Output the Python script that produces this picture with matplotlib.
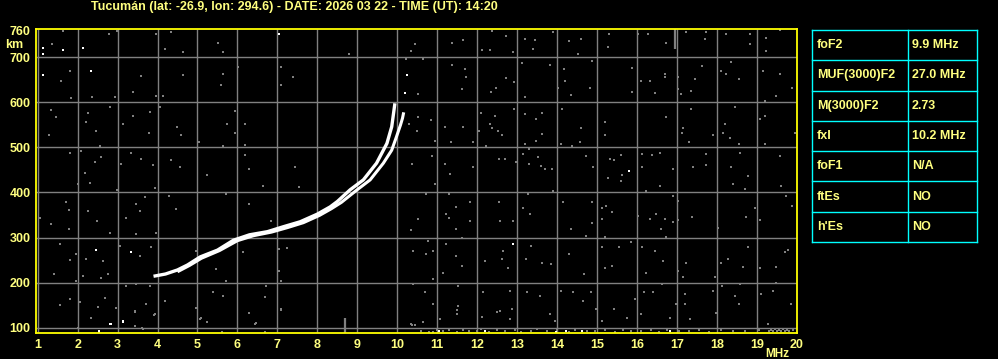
import matplotlib
matplotlib.use("Agg")
import matplotlib.pyplot as plt

# Station / header
station = "Tucumán"
lat, lon = -26.9, 294.6
date_str = "2026 03 22"
time_str = "14:20"

# Ordinary trace (frequency MHz, virtual height km)
o_freq = [3.9, 4.2, 4.5, 4.75, 5.07, 5.5, 5.9, 6.3, 6.75, 7.15, 7.57, 8.0, 8.32, 8.5,
          8.82, 9.15, 9.48, 9.74, 9.86, 9.94]
o_height = [214, 219, 228, 239, 257, 272, 294, 306, 313, 324, 335, 352, 368, 380,
            406, 428, 465, 509, 546, 598]

# Extraordinary trace
x_freq = [4.5, 4.8, 5.1, 5.55, 6.0, 6.4, 6.85, 7.25, 7.65, 8.05, 8.35, 8.6, 8.98, 9.32,
          9.65, 9.86, 9.98, 10.08, 10.13, 10.16]
x_height = [224, 238, 254, 271, 293, 304, 312, 322, 333, 349, 364, 378, 405, 428,
            465, 494, 524, 550, 565, 578]

# Bright single echoes
bright_freq = [1.13, 1.13, 1.63, 2.13, 2.34, 1.13, 7.03, 2.45, 3.34, 2.84, 3.13, 2.53,
               2.82, 3.13, 2.54, 10.19, 10.23, 12.9, 15.79, 11.04, 12.19, 14.23, 14.63,
               16.83, 13.98]
bright_height = [721, 707, 716, 721, 670, 661, 752, 272, 267, 109, 115, 93,
                 109, 113, 91, 621, 661, 285, 448, 93, 93, 93, 93, 93, 90]

# Grey noise echoes
noise_freq = [
    1.37, 1.63, 2.78, 2.98, 3.95, 4.34, 4.18, 4.63, 5.51, 5.63, 8.78, 6.02, 7.09, 7.38,
    7.09, 5.59, 5.63, 1.8, 1.59, 1.84, 2.37, 2.93, 3.38, 3.59, 3.97, 4.13, 4.63, 2.8,
    1.34, 1.47, 2.26, 3.38, 3.8, 4.05, 2.22, 2.47, 3.13, 1.28, 3.78, 4.48, 4.59, 5.74,
    5.95, 6.19, 5.94, 5.03, 5.63, 6.19, 2.55, 1.8, 2.09, 2.59, 2.43, 3.34, 3.59, 3.88,
    4.34, 4.57, 2.18, 3.09, 6.18, 5.24, 6.28, 7.43, 10.45, 10.34, 10.51, 10.28, 10.5,
    10.53, 10.37, 10.22,
    2.3, 2.01, 2.98, 1.7, 1.78, 2.26, 2.48, 2.8, 1.78, 1.34, 1.05, 3.22, 3.47, 3.55,
    3.68, 3.93, 4.3, 4.47, 3.47, 3.97, 1.55, 1.97, 2.22, 2.63, 3.05, 3.55, 3.84, 1.8,
    1.42, 2.13, 2.59, 2.76, 1.97, 3.22, 3.47, 3.8, 1.8, 2.05, 2.51, 2.68, 2.97, 3.43,
    3.72, 4.18, 3.93, 2.34, 3.43, 3.63, 2.01, 4.97, 5.09, 5.38, 5.63, 5.72, 6.13, 5.47,
    4.97, 6.28, 6.47, 6.72, 6.68, 7.09, 7.05, 7.24, 7.05, 7.09, 5.72, 6.3, 6.63, 6.84,
    7.55, 10.38, 10.38, 10.34, 10.51, 10.34, 1.57, 3.44, 3.9, 3.61, 5.07, 5.23, 6.28,
    6.44, 6.68, 5.61, 7.09, 10.36, 10.65, 10.9, 11.49, 11.49, 12.13, 12.49,
    12.36, 12.72, 13.19, 13.44, 13.9, 14.3, 14.59, 15.29, 15.28, 16.03, 16.28, 16.73,
    17.23, 17.71, 17.73, 18.23, 18.83, 18.83, 19.23, 19.23, 19.57, 11.36, 11.65, 12.11,
    12.33, 12.9, 13.4, 14.53, 10.65, 11.38, 11.69, 11.73, 11.63, 12.73, 12.93, 12.48,
    12.35, 13.13, 13.19, 13.82, 14.18, 14.19, 14.34, 14.03, 14.83, 14.88, 15.88, 15.88,
    16.09, 16.33, 16.44, 16.69, 16.69, 17.03, 17.02, 17.09, 17.34, 17.44, 17.63, 18.11,
    18.36, 18.55, 18.23, 19.15, 19.58, 19.48, 19.88, 19.19, 19.07, 19.19, 18.44, 18.19,
    18.14, 18.33, 18.54, 19.94, 19.19, 17.15, 17.13, 17.3, 17.9, 17.34, 16.73, 16.11,
    16.38, 16.57, 16.9, 17.4, 17.73, 17.73, 18.36, 18.58, 18.78, 19.58, 15.19, 15.19,
    14.59, 14.57, 14.13, 14.09, 14.38, 14.73, 14.9, 15.32, 15.43, 15.59, 15.63, 16.11,
    13.19, 13.63, 13.48, 13.63, 13.48, 13.19, 13.15, 13.3, 13.52, 13.6, 13.3, 13.69,
    13.88, 12.32, 12.36, 12.53, 12.63, 12.05, 12.44, 12.09, 12.93, 11.9, 11.65, 11.19,
    11.34, 10.84, 10.94, 10.86, 11.19, 11.32, 11.9, 12.23, 12.69, 12.54, 12.98,
    10.94, 10.73, 11.3, 11.48, 11.83, 11.48, 11.63, 11.21, 11.29, 11.83, 12.54, 12.58,
    12.9, 13.15, 13.32, 13.28, 13.9, 14.15, 14.88, 15.13, 15.23, 15.38, 15.13, 14.88,
    14.35, 14.73, 15.19, 15.28, 15.59, 16.23, 16.57, 16.9, 17.02, 16.03, 16.32, 16.48,
    16.69, 16.9, 17.02, 16.59, 16.73, 17.38, 18.03, 18.4, 18.69, 18.94, 18.72, 19.08,
    19.73, 19.88, 19.59,
    10.78, 11.23, 10.9, 10.73, 11.48, 11.63, 11.15, 10.9, 12.65, 12.61, 12.78, 12.19,
    13.34, 13.21, 13.63, 13.84, 14.3, 14.67, 15.13, 15.54, 15.38, 15.19, 15.84, 16.13,
    16.44, 16.65, 16.21, 17.02, 17.23, 17.16, 17.94, 18.11, 18.28, 18.65, 18.78, 19.07,
    19.47, 19.7, 19.78,
    10.69, 11.52, 10.9, 11.52, 11.07, 12.15, 12.58, 12.82, 12.86, 12.82, 13.24, 13.58,
    13.82, 13.94, 14.1, 14.4, 14.65, 14.85, 14.98, 15.11, 15.43, 15.74, 15.95, 16.1,
    16.18, 16.4, 16.63, 16.83, 16.98, 17.2, 17.2, 17.32, 17.9, 17.97, 18.13, 18.44,
    18.58, 18.55, 19.11, 19.4, 19.48, 19.84, 19.28,
    # clutter just above the bottom edge
    10.45, 10.6, 10.8, 11.0, 11.15, 11.3, 11.5, 11.65, 11.8, 12.0, 12.1, 12.3, 12.5,
    12.7, 12.95, 13.1, 13.35, 13.5, 13.75, 14.0, 14.3, 14.45, 14.75, 14.95, 15.2, 15.45,
    15.65, 15.85, 16.1, 16.35, 16.55, 16.75, 17.05, 17.3, 17.55, 17.8, 18.1, 18.4, 18.7,
    19.05, 19.3, 19.35, 19.4, 19.45, 19.5, 19.55, 19.6, 19.65, 19.7, 19.75, 19.8, 19.9,
]
noise_height = [
    730, 758, 753, 758, 752, 756, 719, 711, 733, 711, 707, 678, 678, 656,
    639, 639, 664, 670, 648, 610, 612, 612, 624, 659, 615, 615, 661, 589,
    583, 568, 576, 570, 578, 589, 556, 536, 552, 527, 531, 546, 528, 553,
    580, 552, 533, 513, 504, 505, 504, 487, 493, 478, 467, 487, 474, 461,
    473, 456, 444, 464, 483, 439, 452, 456, 730, 715, 619, 552, 537,
    567, 463, 696,
    422, 419, 405, 378, 361, 359, 337, 311, 319, 330, 344, 344, 374, 359,
    389, 411, 393, 363, 307, 311, 285, 264, 252, 248, 281, 259, 278, 250,
    219, 215, 211, 219, 204, 193, 196, 193, 163, 156, 146, 165, 144, 137,
    152, 159, 130, 122, 104, 96, 100, 144, 122, 178, 170, 204, 267, 230,
    270, 133, 111, 193, 167, 141, 274, 276, 226, 204, 396, 374, 415, 337,
    413, 270, 196, 107, 341, 316, 150, 135, 128, 98, 120, 113, 132,
    108, 91, 91, 139, 106, 113, 91, 139, 130, 123, 135,
    759, 748, 741, 739, 756, 737, 741, 752, 722, 752, 752, 731,
    756, 741, 756, 752, 752, 730, 744, 715, 761, 733, 739, 716,
    716, 711, 719, 707, 696, 683, 674, 656, 630, 654, 646, 633,
    624, 687, 611, 683, 674, 648, 616, 633, 633, 691, 676, 624,
    648, 647, 620, 663, 656, 656, 630, 619, 626, 652, 681, 670,
    689, 652, 663, 670, 663, 615, 633, 604, 563, 570, 589, 553,
    531, 522, 507, 533, 507, 544, 531, 513, 528, 585, 567, 485,
    483, 487, 452, 456, 485, 461, 456, 487, 437, 481, 557, 527,
    544, 511, 585, 507, 504, 481, 456, 474, 472, 483, 439, 456,
    574, 576, 563, 530, 515, 507, 485, 496, 478, 459, 463, 452,
    452, 552, 544, 537, 527, 537, 570, 576, 585, 513, 546, 546,
    511, 561, 515, 481, 464, 442, 456, 504, 474, 474, 467,
    419, 396, 396, 367, 378, 319, 300, 352, 343, 337, 378, 337,
    337, 365, 352, 396, 404, 378, 378, 365, 370, 357, 342, 333,
    319, 304, 301, 433, 426, 404, 415, 393, 381, 348, 341, 352,
    341, 335, 339, 320, 301, 346, 322, 419, 407, 365, 346, 339,
    393, 370, 415,
    293, 285, 270, 263, 259, 237, 222, 207, 270, 252, 233, 248,
    281, 252, 244, 241, 263, 219, 278, 278, 237, 233, 289, 278,
    270, 248, 222, 226, 244, 213, 213, 244, 253, 235, 279, 233,
    235, 267, 272,
    178, 193, 152, 148, 119, 178, 137, 181, 141, 119, 178, 170,
    130, 115, 181, 178, 159, 178, 141, 115, 141, 122, 163, 131,
    178, 178, 196, 122, 152, 174, 153, 119, 181, 133, 193, 170,
    196, 152, 174, 181, 200, 153, 107,
    106, 93, 91, 95, 92, 94, 91, 95, 92, 93, 96, 91, 94,
    92, 95, 91, 93, 96, 92, 94, 91, 95, 93, 92, 94, 91,
    95, 93, 92, 94, 91, 95, 93, 92, 94, 91, 95, 93, 92,
    94, 93, 95, 92, 96, 93, 95, 92, 96, 93, 95, 92, 94,
]

# Vertical interference streaks
streak_freq = [16.94, 8.69]
streak_low = [718, 89]
streak_high = [763, 121]

# Scaled parameters table
param_names = ["foF2", "MUF(3000)F2", "M(3000)F2", "fxI", "foF1", "ftEs", "h'Es"]
param_values = ["9.9 MHz", "27.0 MHz", "2.73", "10.2 MHz", "N/A", "NO", "NO"]

freq_ticks = list(range(1, 21))
height_ticks = [100, 200, 300, 400, 500, 600, 700]

text_yellow = "#ffff80"
frame_yellow = "#ffff00"
grid_grey = "#808080"

plt.rcParams["font.family"] = ["Liberation Sans", "DejaVu Sans"]
plt.rcParams["font.weight"] = "bold"

fig = plt.figure(figsize=(9.98, 3.59), dpi=100, facecolor="black")
ax = fig.add_axes([36 / 998, 26 / 359, 761 / 998, 304 / 359], facecolor="black")

# grid
ax.vlines(freq_ticks[:-1], 88, 763, colors=grid_grey, linewidth=1.0, zorder=1)
ax.hlines(height_ticks, 0.96, 20.0, colors=grid_grey, linewidth=1.0, zorder=1)

# noise and streaks
ax.scatter(noise_freq, noise_height, s=4.5, marker="s", color=grid_grey, linewidths=0, zorder=2)
ax.vlines(streak_freq, streak_low, streak_high, colors=grid_grey, linewidth=1.6, zorder=2)
ax.scatter(bright_freq, bright_height, s=4.5, marker="s", color="white", linewidths=0, zorder=3)

# traces
ax.plot(x_freq, x_height, color="white", linewidth=2.2, solid_capstyle="butt", zorder=4)
ax.plot(o_freq, o_height, color="white", linewidth=2.4, solid_capstyle="butt", zorder=4)

ax.set_xlim(0.96, 20.0)
ax.set_ylim(88, 763)
ax.set_xticks(freq_ticks)
ax.set_xticklabels([str(f) for f in freq_ticks])
ax.set_yticks(height_ticks + [760])
ax.set_yticklabels([str(h) for h in height_ticks] + ["760"])
ax.tick_params(length=0, colors=text_yellow, labelsize=9)
ax.tick_params(axis="x", pad=4)
ax.tick_params(axis="y", pad=4)
for s in ax.spines.values():
    s.set_color(frame_yellow)
    s.set_linewidth(1.3)
    s.set_zorder(5)

ax.text(-0.029, 0.947, "km", transform=ax.transAxes, color=text_yellow, fontsize=9,
        ha="center", va="center")
ax.text(0.974, -0.07, "MHz", transform=ax.transAxes, color=text_yellow, fontsize=8.5,
        ha="center", va="center")

title = f"{station} (lat: {lat}, lon: {lon}) - DATE: {date_str} - TIME (UT): {time_str}"
fig.text(91 / 998, 1 - 7 / 359, title, color=text_yellow, fontsize=9, ha="left", va="center")

# parameters table
tab = fig.add_axes([812 / 998, 117 / 359, 165 / 998, 212 / 359], facecolor="black")
tab.set_xlim(0, 165)
tab.set_ylim(212, 0)
tab.axis("off")
row_h = 212 / len(param_names)
cyan = "#00ffff"
for i in range(len(param_names) + 1):
    tab.plot([0, 165], [i * row_h, i * row_h], color=cyan, linewidth=1.0, clip_on=False)
tab.plot([0, 0], [0, 212], color=cyan, linewidth=1.0, clip_on=False)
tab.plot([165, 165], [0, 212], color=cyan, linewidth=1.0, clip_on=False)
tab.plot([95.5, 95.5], [0, 212], color=cyan, linewidth=1.0, clip_on=False)
for i, (name, val) in enumerate(zip(param_names, param_values)):
    yc = (i + 0.5) * row_h
    tab.text(5, yc, name, color=text_yellow, fontsize=9, ha="left", va="center")
    tab.text(100, yc, val, color=text_yellow, fontsize=9, ha="left", va="center")

fig.savefig("out.png", dpi=100, facecolor="black")
